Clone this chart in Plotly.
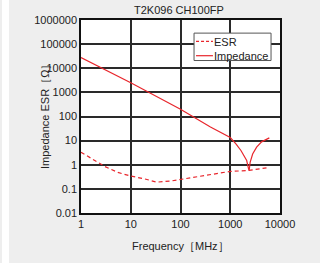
import plotly.graph_objects as go

title = "T2K096 CH100FP"
x_title = "Frequency［MHz］"
y_title = "Impedance ESR［Ω］"

esr_freq = [1, 1.6, 3, 5.5, 10, 19, 33, 62, 100, 300, 1000, 2400, 6100]
esr_vals = [3.3, 1.9, 0.85, 0.48, 0.34, 0.26, 0.19, 0.21, 0.245, 0.34, 0.53, 0.58, 0.78]

imp_freq = [1, 10, 100, 400, 1000, 1300, 1640, 1900, 2140, 2340, 2400, 2510, 2820, 3390, 4270, 6100]
imp_vals = [28000, 2500, 200, 37, 13.5, 7.4, 3.9, 2.4, 1.5, 0.66, 0.58, 1.26, 2.8, 5.4, 8.9, 13]

x_tickvals = [1, 10, 100, 1000, 10000]
x_ticktext = ["1", "10", "100", "1000", "10000"]
y_tickvals = [0.01, 0.1, 1, 10, 100, 1000, 10000, 100000, 1000000]
y_ticktext = ["0.01", "0.1", "1", "10", "100", "1000", "10000", "100000", "1000000"]

legend_names = ["ESR", "Impedance"]

red = "#e8262c"
font = "Liberation Sans, Arial, sans-serif"
txt = "#222"

fig = go.Figure()
fig.add_trace(go.Scatter(x=esr_freq, y=esr_vals, mode="lines", name=legend_names[0],
                         line=dict(color=red, width=1.2, dash="4px,3px")))
fig.add_trace(go.Scatter(x=imp_freq, y=imp_vals, mode="lines", name=legend_names[1],
                         line=dict(color=red, width=1.2)))

axis_common = dict(type="log", showgrid=True, gridcolor="#2a2a2a", gridwidth=1.5,
                   showline=True, linecolor="#111", linewidth=1.5, mirror=True,
                   ticks="", zeroline=False,
                   tickfont=dict(family=font, size=11, color=txt))

fig.update_xaxes(range=[0, 4], tickvals=x_tickvals, ticktext=x_ticktext, **axis_common)
fig.update_yaxes(range=[-2, 6], tickvals=y_tickvals, ticktext=y_ticktext, **axis_common)

# manual compact legend (paper coords)
leg_x0, leg_x1, leg_y0, leg_y1 = 0.568, 0.955, 0.79, 0.932
row_y = [0.889, 0.815]
sample_x0, sample_x1, text_x = 0.578, 0.663, 0.665

shapes = [
    dict(type="rect", xref="paper", yref="paper", x0=-0.397, x1=-0.362,
         y0=-0.3, y1=1.3, fillcolor="white", line=dict(width=0), layer="below"),
    dict(type="rect", xref="paper", yref="paper", x0=leg_x0, x1=leg_x1,
         y0=leg_y0, y1=leg_y1, fillcolor="white", line=dict(color="#555", width=1),
         layer="above"),
    dict(type="line", xref="paper", yref="paper", x0=sample_x0, x1=sample_x1,
         y0=row_y[0], y1=row_y[0], line=dict(color=red, width=1.2, dash="3px,2px")),
    dict(type="line", xref="paper", yref="paper", x0=sample_x0, x1=sample_x1,
         y0=row_y[1], y1=row_y[1], line=dict(color=red, width=1.2)),
]

annotations = [
    dict(text=title, xref="paper", yref="paper", x=0.49, y=1.0, yshift=10,
         xanchor="center", yanchor="middle", showarrow=False,
         font=dict(family=font, size=11, color=txt)),
    dict(text=x_title, xref="paper", yref="paper", x=0.5, y=-0.171,
         xanchor="center", yanchor="middle", showarrow=False,
         font=dict(family=font, size=11, color=txt)),
    dict(text=y_title, xref="paper", yref="paper", x=-0.181, y=0.513,
         xanchor="center", yanchor="middle", showarrow=False, textangle=-90,
         font=dict(family=font, size=11, color=txt)),
    dict(text="<br>".join(legend_names), xref="paper", yref="paper", x=text_x,
         y=(row_y[0] + row_y[1]) / 2, xanchor="left", yanchor="middle", align="left",
         showarrow=False, borderpad=0,
         font=dict(family=font, size=11, color=txt)),
]

fig.update_layout(
    width=320, height=263,
    margin=dict(l=81, r=40, t=20, b=50),
    paper_bgcolor="#eeeeee", plot_bgcolor="white",
    font=dict(family=font, size=11, color=txt),
    showlegend=False,
    annotations=annotations,
    shapes=shapes,
)

fig.write_html("out.html", config={"displayModeBar": False},
               post_script="document.body.style.margin='0';document.body.style.background='#eeeeee';")
